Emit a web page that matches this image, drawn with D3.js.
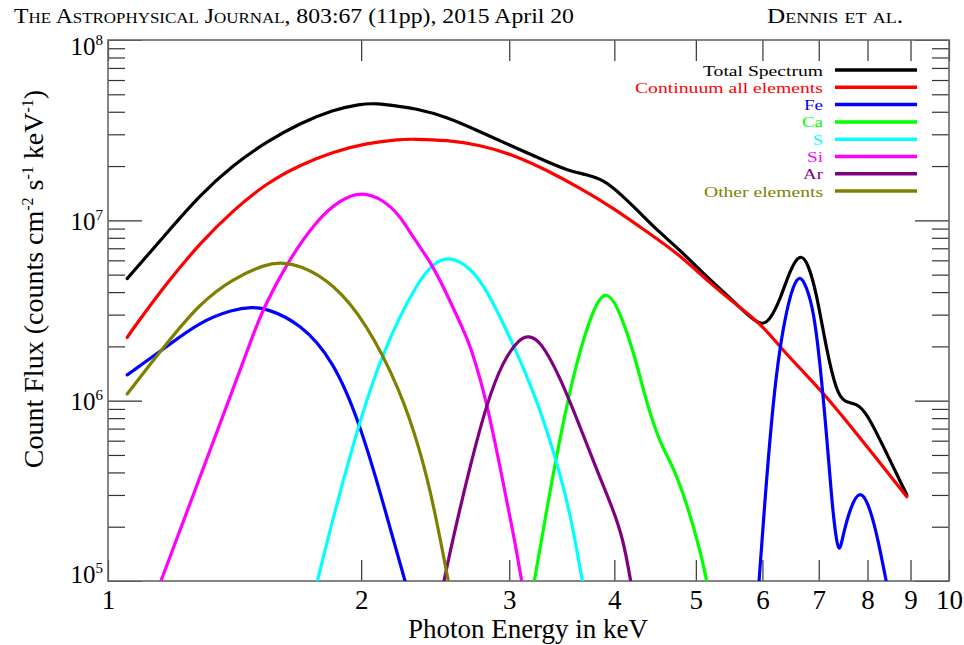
<!DOCTYPE html>
<html><head><meta charset="utf-8">
<script src="https://cdn.jsdelivr.net/npm/d3@7"></script>
<style>
body{margin:0;background:#fff;}
svg{display:block;}
svg text{font-family:"Liberation Serif","Times New Roman",serif;}
</style></head><body>
<svg id="chart" width="964" height="645"></svg>
<script>
// ---- data: [photon energy keV, count flux] ----
const totalSpectrum = [[1.054,4.75e6],[1.174,8.48e6],[1.286,1.38e7],[1.409,2.03e7],[1.544,2.73e7],[1.692,3.46e7],[1.853,4.10e7],[1.993,4.42e7],[2.087,4.46e7],[2.225,4.27e7],[2.307,4.19e7],[2.527,3.76e7],[2.769,3.10e7],[3.034,2.56e7],[3.324,2.12e7],[3.511,1.90e7],[3.709,1.79e7],[3.880,1.68e7],[4.063,1.41e7],[4.291,1.10e7],[4.492,8.85e6],[4.787,6.85e6],[5.197,4.67e6],[5.567,3.50e6],[5.962,2.55e6],[6.127,2.80e6],[6.296,3.62e6],[6.471,5.31e6],[6.65,6.6e6],[6.80,5.78e6],[6.96,3.94e6],[7.15,1.91e6],[7.355,1.10e6],[7.52,9.75e5],[7.77,9.67e5],[7.99,8.51e5],[8.43,5.11e5],[8.91,3.00e5]];
const continuumAll = [[1.054,2.24e6],[1.072,2.52e6],[1.174,4.48e6],[1.286,7.46e6],[1.409,1.14e7],[1.544,1.61e7],[1.692,2.03e7],[1.853,2.40e7],[2.030,2.68e7],[2.225,2.82e7],[2.307,2.82e7],[2.527,2.79e7],[2.769,2.62e7],[3.034,2.31e7],[3.324,1.90e7],[3.641,1.51e7],[3.989,1.17e7],[4.370,8.66e6],[4.787,6.43e6],[5.197,4.48e6],[5.567,3.45e6],[5.962,2.69e6],[6.296,1.99e6],[6.65,1.51e6],[7.09,1.10e6],[7.56,7.65e5],[8.13,5.04e5],[8.91,2.93e5]];
const feLines = [[1.054,1.39e6],[1.174,1.99e6],[1.286,2.74e6],[1.409,3.21e6],[1.482,3.30e6],[1.544,3.25e6],[1.692,2.69e6],[1.853,1.68e6],[1.993,7.49e5],[2.125,2.70e5],[2.255,1.0e5],[4.0,null],[5.945,1.0e5],[6.04,2.81e5],[6.18,1.01e6],[6.296,1.99e6],[6.412,3.18e6],[6.53,4.38e6],[6.65,5.0e6],[6.77,4.29e6],[6.90,3.18e6],[7.02,1.68e6],[7.15,6.60e5],[7.255,2.81e5],[7.318,1.92e5],[7.40,1.38e5],[7.482,1.80e5],[7.63,2.54e5],[7.84,3.28e5],[8.06,2.54e5],[8.235,1.69e5],[8.42,1.0e5]];
const caLines = [[3.213,1e5],[3.324,2.48e5],[3.447,6.31e5],[3.609,1.68e6],[3.777,3.25e6],[3.899,4.1e6],[4.026,3.47e6],[4.213,1.91e6],[4.370,9.67e5],[4.533,5.80e5],[4.700,4.31e5],[4.877,2.70e5],[5.058,1.49e5],[5.151,1e5]];
const sLines = [[1.774,1e5],[1.853,2.27e5],[1.993,7.82e5],[2.125,1.91e6],[2.328,4.48e6],[2.437,5.78e6],[2.539,6.35e6],[2.694,5.54e6],[2.820,4.11e6],[2.951,2.69e6],[3.090,1.68e6],[3.234,1.01e6],[3.384,5.33e5],[3.542,2.48e5],[3.664,1e5]];
const siLines = [[1.156,1e5],[1.278,3.48e5],[1.388,9.67e5],[1.495,2.47e6],[1.530,3.23e6],[1.631,5.78e6],[1.771,1.005e7],[1.888,1.30e7],[2.003,1.45e7],[2.125,1.30e7],[2.225,1.06e7],[2.307,8.0e6],[2.415,5.96e6],[2.527,3.94e6],[2.645,2.47e6],[2.694,2.05e6],[2.820,1.01e6],[2.951,3.48e5],[3.034,1.84e5],[3.104,1e5]];
const arLines = [[2.509,1e5],[2.574,1.76e5],[2.694,4.31e5],[2.820,9.67e5],[2.951,1.68e6],[3.090,2.22e6],[3.161,2.29e6],[3.264,2.17e6],[3.447,1.36e6],[3.641,7.18e5],[3.812,4.13e5],[3.989,2.48e5],[4.100,1.69e5],[4.183,1e5]];
const otherElements = [[1.054,1.09e6],[1.174,2.08e6],[1.286,3.47e6],[1.409,4.77e6],[1.544,5.73e6],[1.601,5.83e6],[1.692,5.66e6],[1.853,4.48e6],[2.030,2.69e6],[2.225,1.15e6],[2.35,5.33e5],[2.437,2.70e5],[2.539,1e5]];

const seriesNames = ["Total Spectrum","Continuum all elements","Fe","Ca","S","Si","Ar","Other elements"];
const seriesData = [totalSpectrum, continuumAll, feLines, caLines, sLines, siLines, arLines, otherElements];
const seriesColors = ["#000000","#ff0000","#0000ff","#00ff00","#00ffff","#ff00ff","#800080","#808000"];
const legendWidths = [120,188,19,21,10,16,20,119];

const xTickValues = [1,2,3,4,5,6,7,8,9,10];
const yMajorValues = [1e5,1e6,1e7,1e8];
const yExponents = ["5","6","7","8"];
const journalName = "The Astrophysical Journal";
const journalRef = ", 803:67 (11pp), 2015 April 20";
const authors = "Dennis et al.";
const xTitle = "Photon Energy in keV";

// ---- layout ----
const W = 964, H = 645;
const M = {left:108, right:949, top:40, bottom:581};
const FONT = '"Liberation Serif","Times New Roman",serif';
const x = d3.scaleLog().domain([1,10]).range([M.left, M.right]);
const y = d3.scaleLog().domain([1e5,1e8]).range([M.bottom, M.top]);
const yMinor = [];
[1e5,1e6,1e7].forEach(d => { for (let k=2;k<=9;k++) yMinor.push(d*k); });

const svg = d3.select('#chart');
svg.append('rect').attr('width',W).attr('height',H).attr('fill','#fff');

// header
const h1 = svg.append('text').attr('x',14).attr('y',23).attr('font-size',21).attr('font-family',FONT)
  .attr('textLength',560).attr('lengthAdjust','spacingAndGlyphs');
h1.append('tspan').style('font-variant','small-caps').text(journalName);
h1.append('tspan').text(journalRef);
svg.append('text').attr('x',767).attr('y',23).attr('font-size',21).attr('font-family',FONT)
  .style('font-variant','small-caps').attr('textLength',136).attr('lengthAdjust','spacingAndGlyphs')
  .text(authors);

// clip
svg.append('clipPath').attr('id','plotclip').append('rect')
  .attr('x',M.left).attr('y',M.top).attr('width',M.right-M.left).attr('height',M.bottom-M.top);

// axes ticks
const tickColor = '#333';
function styleAxis(g){ g.select('.domain').remove(); g.selectAll('.tick line').attr('stroke',tickColor).attr('stroke-width',1.2); }

svg.append('g').attr('transform',`translate(0,${M.bottom})`)
  .call(d3.axisBottom(x).tickValues(xTickValues).tickSize(-21).tickPadding(9).tickFormat(d3.format('d')))
  .call(styleAxis)
  .call(g => g.selectAll('text').attr('font-size',27).attr('font-family',FONT).attr('fill','#000'));
svg.append('g').attr('transform',`translate(0,${M.top})`)
  .call(d3.axisTop(x).tickValues(xTickValues).tickSize(-21).tickFormat(''))
  .call(styleAxis);
svg.append('g').attr('transform',`translate(${M.left},0)`)
  .call(d3.axisLeft(y).tickValues(yMajorValues).tickSize(-34).tickFormat(''))
  .call(styleAxis);
svg.append('g').attr('transform',`translate(${M.left},0)`)
  .call(d3.axisLeft(y).tickValues(yMinor).tickSize(-17).tickFormat(''))
  .call(styleAxis);
svg.append('g').attr('transform',`translate(${M.right},0)`)
  .call(d3.axisRight(y).tickValues(yMajorValues).tickSize(-34).tickFormat(''))
  .call(styleAxis);
svg.append('g').attr('transform',`translate(${M.right},0)`)
  .call(d3.axisRight(y).tickValues(yMinor).tickSize(-17).tickFormat(''))
  .call(styleAxis);

// y labels 10^n
yMajorValues.forEach((v,i) => {
  const shift = i===0 ? 2 : (i===yMajorValues.length-1 ? 15 : 9.5);
  const t = svg.append('text').attr('x',103).attr('y',y(v)+shift).attr('text-anchor','end')
    .attr('font-size',25).attr('font-family',FONT);
  t.append('tspan').text('10');
  t.append('tspan').attr('dy',-10).attr('font-size',15).text(yExponents[i]);
});

// frame
svg.append('rect').attr('x',M.left).attr('y',M.top).attr('width',M.right-M.left).attr('height',M.bottom-M.top)
  .attr('fill','none').attr('stroke','#666').attr('stroke-width',1.6);

// curves
const line = d3.line().defined(d => d[1]!==null).x(d => x(d[0])).y(d => y(d[1])).curve(d3.curveBasis);
const plot = svg.append('g').attr('clip-path','url(#plotclip)');
seriesData.forEach((data,i) => {
  plot.append('path').datum(data).attr('d',line).attr('fill','none')
    .attr('stroke',seriesColors[i]).attr('stroke-width',3.2).attr('stroke-linejoin','round').attr('stroke-linecap','round');
});

// legend
const legend = svg.append('g');
seriesNames.forEach((name,i) => {
  const cy = 70 + i*17.3;
  legend.append('text').attr('x',823).attr('y',cy+5.5).attr('text-anchor','end').attr('font-size',15.6)
    .attr('font-family',FONT).attr('textLength',legendWidths[i]).attr('lengthAdjust','spacingAndGlyphs')
    .attr('fill',seriesColors[i]).text(name);
  legend.append('line').attr('x1',835).attr('x2',917).attr('y1',cy).attr('y2',cy)
    .attr('stroke',seriesColors[i]).attr('stroke-width',3.5);
});

// axis titles
svg.append('text').attr('x',528).attr('y',638).attr('text-anchor','middle').attr('font-size',27)
  .attr('font-family',FONT).text(xTitle);
const yt = svg.append('text').attr('transform','translate(43,279) rotate(-90)').attr('text-anchor','middle')
  .attr('font-size',28).attr('font-family',FONT);
yt.append('tspan').text('Count Flux (counts cm');
yt.append('tspan').attr('dy',-10).attr('font-size',16).text('-2');
yt.append('tspan').attr('dy',10).text(' s');
yt.append('tspan').attr('dy',-10).attr('font-size',16).text('-1');
yt.append('tspan').attr('dy',10).text(' keV');
yt.append('tspan').attr('dy',-10).attr('font-size',16).text('-1');
yt.append('tspan').attr('dy',10).text(')');
</script>
</body></html>
